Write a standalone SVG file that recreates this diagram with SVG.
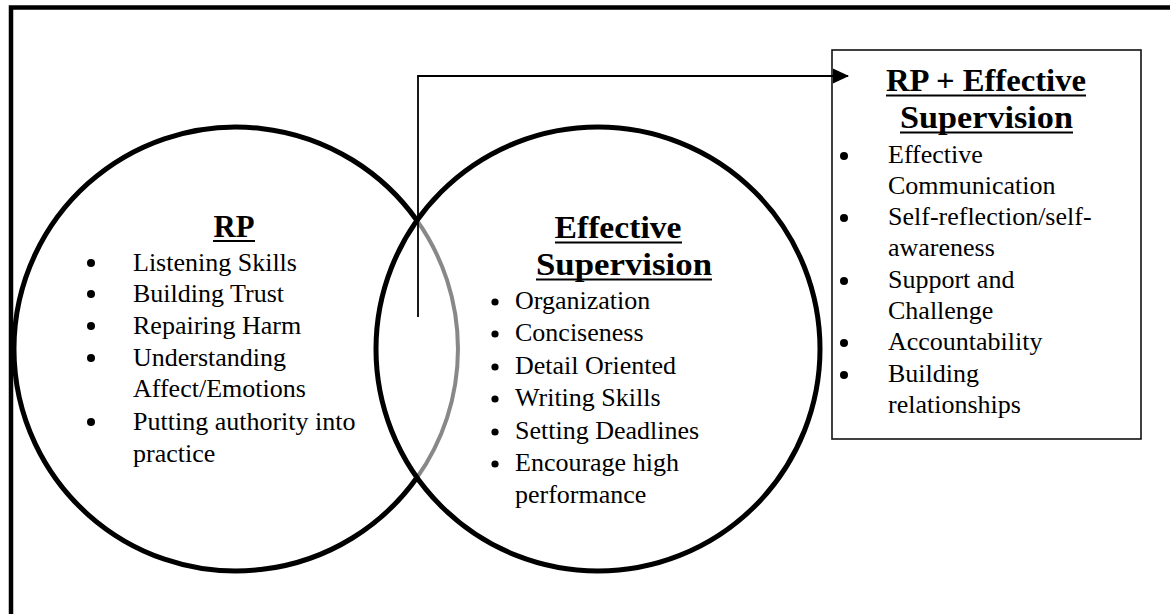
<svg xmlns="http://www.w3.org/2000/svg" width="1170" height="614" viewBox="0 0 1170 614">
  <defs>
    <style>
      .frame { fill: none; stroke: #000; stroke-width: 4.5; }
      .ring { fill: none; stroke: #000; stroke-width: 5; }
      .ring-in { fill: none; stroke: #888; stroke-width: 4; }
      .box { fill: #fff; stroke: #111; stroke-width: 1.6; }
      .head { font-family: "Liberation Serif", "Times New Roman", serif; font-weight: bold; font-size: 31px; fill: #000; text-anchor: middle; }
      .ul { stroke: #000; stroke-width: 2.2; }
      .item { font-family: "Liberation Serif", "Times New Roman", serif; font-size: 26px; fill: #000; }
      .dot { fill: #000; }
      .conn { fill: none; stroke: #000; stroke-width: 1.8; }
    </style>
    <marker id="arrow" markerWidth="16" markerHeight="16" refX="15" refY="8" orient="auto" markerUnits="userSpaceOnUse">
      <path d="M0,0.5 L16,8 L0,15.5 Z" fill="#000"/>
    </marker>
  </defs>

  <rect width="1170" height="614" fill="#fff"/>

  <!-- outer frame (open on right and bottom) -->
  <path class="frame" d="M11,614 V7.5 H1170"/>

  <!-- RP circle: outer arc black, arc inside the overlap grey -->
  <g id="node-rp">
    <path class="ring" d="M417,220.5 A222,222 0 1,0 417,477.5"/>
    <path class="ring-in" d="M417,220.5 A222,222 0 0,1 417,477.5"/>
    <text class="head" x="234" y="237" textLength="41" lengthAdjust="spacingAndGlyphs">RP</text>
    <line class="ul" x1="213" y1="241" x2="255" y2="241"/>
    <g class="dot">
      <circle cx="91" cy="263" r="4"/>
      <circle cx="91" cy="294" r="4"/>
      <circle cx="91" cy="326" r="4"/>
      <circle cx="91" cy="358" r="4"/>
      <circle cx="91" cy="422" r="4"/>
    </g>
    <text class="item" x="133" y="271">Listening Skills</text>
    <text class="item" x="133" y="302">Building Trust</text>
    <text class="item" x="133" y="334">Repairing Harm</text>
    <text class="item" x="133" y="366">Understanding</text>
    <text class="item" x="133" y="397">Affect/Emotions</text>
    <text class="item" x="133" y="430">Putting authority into</text>
    <text class="item" x="133" y="462">practice</text>
  </g>

  <!-- Effective Supervision circle -->
  <g id="node-es">
    <circle class="ring" cx="598" cy="349" r="222"/>
    <text class="head" x="618" y="238" textLength="127" lengthAdjust="spacingAndGlyphs">Effective</text>
    <line class="ul" x1="555" y1="242.5" x2="682" y2="242.5"/>
    <text class="head" x="624" y="275" textLength="176" lengthAdjust="spacingAndGlyphs">Supervision</text>
    <line class="ul" x1="536" y1="279.5" x2="712" y2="279.5"/>
    <g class="dot">
      <circle cx="495" cy="302" r="3.6"/>
      <circle cx="495" cy="334" r="3.6"/>
      <circle cx="495" cy="367" r="3.6"/>
      <circle cx="495" cy="399" r="3.6"/>
      <circle cx="495" cy="432" r="3.6"/>
      <circle cx="495" cy="464" r="3.6"/>
    </g>
    <text class="item" x="515" y="309">Organization</text>
    <text class="item" x="515" y="341">Conciseness</text>
    <text class="item" x="515" y="374">Detail Oriented</text>
    <text class="item" x="515" y="406">Writing Skills</text>
    <text class="item" x="515" y="439">Setting Deadlines</text>
    <text class="item" x="515" y="471">Encourage high</text>
    <text class="item" x="515" y="503">performance</text>
  </g>

  <!-- combined result box -->
  <g id="node-combined">
    <rect class="box" x="832" y="50" width="309" height="389"/>
    <text class="head" x="986" y="91" textLength="200" lengthAdjust="spacingAndGlyphs">RP + Effective</text>
    <line class="ul" x1="886" y1="95.5" x2="1086" y2="95.5"/>
    <text class="head" x="986.5" y="128" textLength="173" lengthAdjust="spacingAndGlyphs">Supervision</text>
    <line class="ul" x1="900" y1="132.5" x2="1073" y2="132.5"/>
    <g class="dot">
      <circle cx="844" cy="156" r="4"/>
      <circle cx="844" cy="218" r="4"/>
      <circle cx="844" cy="281" r="4"/>
      <circle cx="844" cy="343" r="4"/>
      <circle cx="844" cy="375" r="4"/>
    </g>
    <text class="item" x="888" y="163">Effective</text>
    <text class="item" x="888" y="194">Communication</text>
    <text class="item" x="888" y="225">Self-reflection/self-</text>
    <text class="item" x="888" y="256">awareness</text>
    <text class="item" x="888" y="288">Support and</text>
    <text class="item" x="888" y="319">Challenge</text>
    <text class="item" x="888" y="350">Accountability</text>
    <text class="item" x="888" y="382">Building</text>
    <text class="item" x="888" y="413">relationships</text>
  </g>

  <!-- connector from the overlap to the combined box -->
  <g id="connectors">
    <path class="conn" d="M418,317 V76 H848" marker-end="url(#arrow)"/>
  </g>
</svg>
